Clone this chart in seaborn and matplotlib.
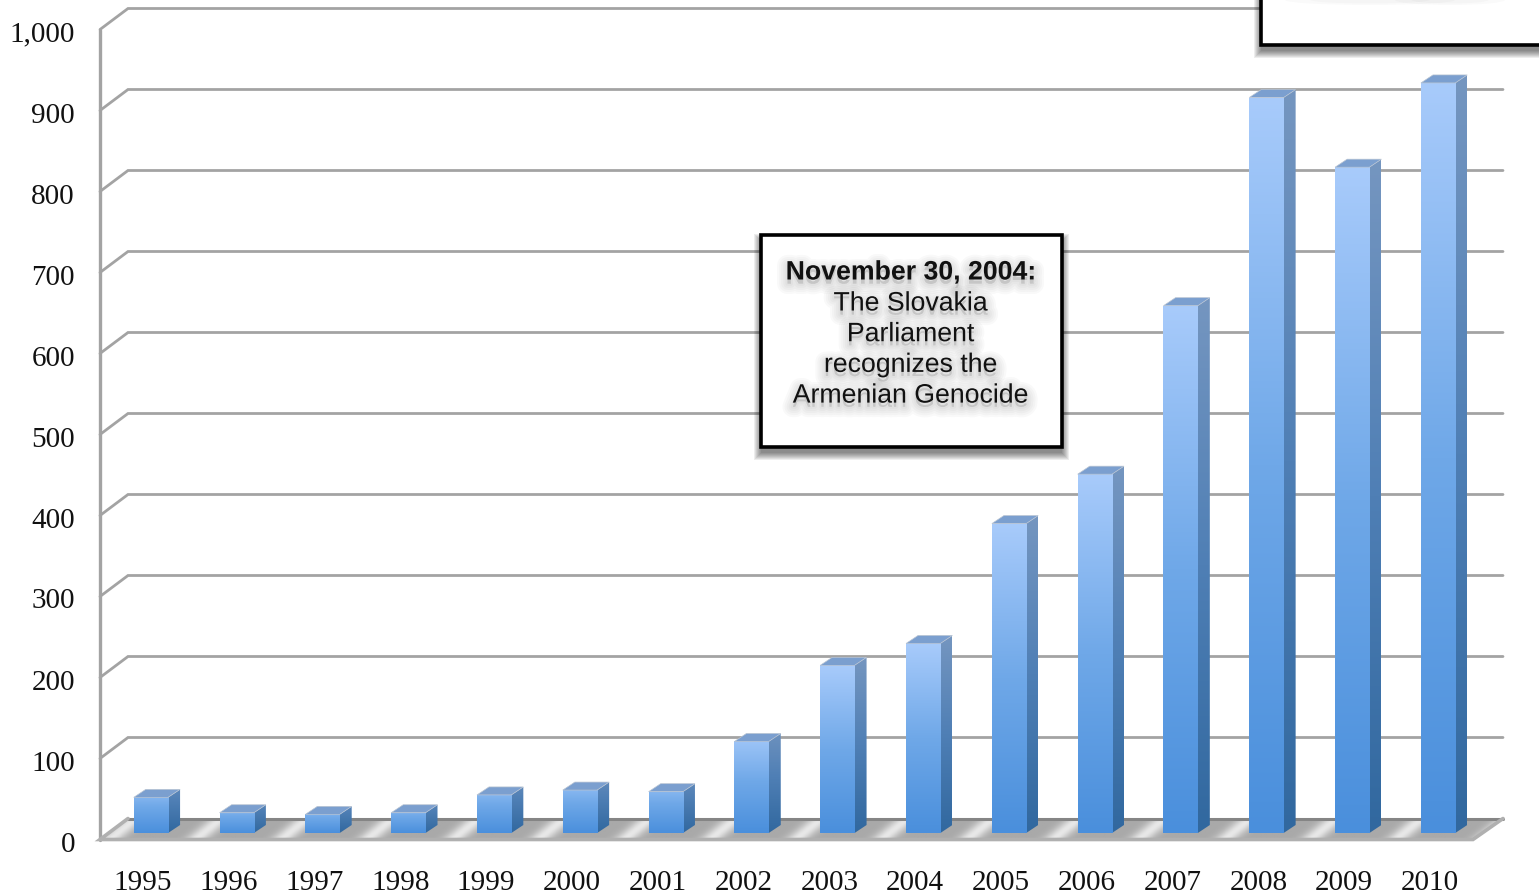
import numpy as np
import pandas as pd
import matplotlib
matplotlib.use("Agg")
import matplotlib.pyplot as plt
import matplotlib.patheffects as pe
from matplotlib.colors import LinearSegmentedColormap
from matplotlib.patches import Polygon, Rectangle, Ellipse
from matplotlib.transforms import Affine2D
import seaborn as sns


# =========================
# 1. Data
# =========================

years = ["1995", "1996", "1997", "1998", "1999", "2000", "2001", "2002",
         "2003", "2004", "2005", "2006", "2007", "2008", "2009", "2010"]
counts = [44, 25, 23, 25, 47, 53, 51, 113, 207, 234, 382, 443, 651, 908, 822, 926]

y_ticks = [0, 100, 200, 300, 400, 500, 600, 700, 800, 900, 1000]
y_tick_labels = ["0", "100", "200", "300", "400", "500", "600", "700", "800", "900", "1,000"]

note_title = "November 30, 2004:"
note_lines = ["The Slovakia", "Parliament", "recognizes the", "Armenian Genocide"]

data = pd.DataFrame({"year": years, "count": counts})


# =========================
# 2. Figure and axes
# =========================

W, H = 1539, 896
sns.set_style("white")

fig = plt.figure(figsize=(W / 100, H / 100), dpi=100)
ax = fig.add_axes([100 / W, (H - 839.5) / H, 1373 / W, 810 / H])

# size of one pixel in data units
PX = len(years) / 1373
PY = 1000 / 810

sns.barplot(data=data, x="year", y="count", width=0.4, ax=ax, zorder=3)
ax.set_xlim(-0.5, len(years) - 0.5)
ax.set_ylim(0, 1000)
ax.set_xlabel("")
ax.set_ylabel("")
sns.despine(ax=ax, left=True, bottom=True)
ax.patch.set_alpha(0)

ax.set_yticks(y_ticks)
ax.set_yticklabels(y_tick_labels)
ax.tick_params(axis="y", length=0, pad=18)
ax.tick_params(axis="x", length=0, pad=22)
for lab in ax.get_xticklabels() + ax.get_yticklabels():
    lab.set_fontfamily("Liberation Serif")
    lab.set_fontsize(21)
    lab.set_color("#111111")
for lab in ax.get_yticklabels():
    lab.set_va("center")
    lab.set_transform(lab.get_transform() + Affine2D().translate(0, -5))


# =========================
# 3. Walls and floor
# =========================

DEPTH_X = 28 * PX
DEPTH_Y = 21 * PY
X0, X1 = -0.5, len(years) - 0.5
FLOOR_RIGHT = X1 + 30 * PX
WALL = "#a3a3a3"

for v in y_ticks[1:]:
    ax.plot([X0, X0 + DEPTH_X, FLOOR_RIGHT], [v, v + DEPTH_Y, v + DEPTH_Y],
            color=WALL, lw=2.0, clip_on=False, zorder=1, solid_joinstyle="miter")
ax.plot([X0, X0], [0, 1000], color=WALL, lw=2.4, clip_on=False, zorder=1)

# floor: grey with a light diagonal streak for every category
floor_pts = [(X0, 0), (X1, 0), (FLOOR_RIGHT, DEPTH_Y), (X0 + DEPTH_X, DEPTH_Y)]
floor_patch = Polygon(floor_pts, closed=True, fc="none", ec="none", transform=ax.transData)
ax.add_patch(floor_patch)

uu, dd = np.meshgrid(np.linspace(X0, FLOOR_RIGHT, 1600), np.linspace(0, 1, 30))
phase = (uu - 0.12 - dd * DEPTH_X * 0.9) % 1.0
streak = np.exp(-(((phase - 0.5) / 0.13) ** 2))
floor_cmap = LinearSegmentedColormap.from_list("floor", ["#a9a9a9", "#e8e8e8"])
im = ax.imshow(streak, cmap=floor_cmap, origin="lower", aspect="auto", vmin=0, vmax=1,
               extent=[X0, FLOOR_RIGHT, 0, DEPTH_Y], zorder=1.5, interpolation="bilinear")
im.set_clip_path(floor_patch)
im.set_clip_box(fig.bbox)
ax.set_xlim(X0, X1)
ax.set_ylim(0, 1000)

ax.plot([X0 + DEPTH_X, FLOOR_RIGHT], [DEPTH_Y, DEPTH_Y], color="#858585", lw=2.2,
        clip_on=False, zorder=1.7)
ax.plot([X0 + DEPTH_X, X0, X1, FLOOR_RIGHT], [DEPTH_Y, 0, 0, DEPTH_Y], color="#b0b0b0", lw=2.6,
        clip_on=False, zorder=1.7, solid_joinstyle="miter")


# =========================
# 4. 3D looking bars
# =========================

front_cmap = LinearSegmentedColormap.from_list("front", ["#4a8fdc", "#6fa8e8", "#a8cbfb"])
side_cmap = LinearSegmentedColormap.from_list("side", ["#31689f", "#4f7fb5", "#7596c0"])
ramp = np.linspace(0, 1, 256).reshape(-1, 1)

SHIFT_X = 8 * PX
BAR_DX = 12 * PX
BAR_DY = 8 * PY
BASE = 6.5 * PY

for patch in ax.patches[:len(years)]:
    if not isinstance(patch, Rectangle):
        continue
    left = patch.get_x() + SHIFT_X
    right = left + patch.get_width()
    height = patch.get_height()
    patch.set_visible(False)

    # short bars do not reach the top colours of the ramp as strongly
    high = 0.55 + 0.45 * min(height / 150, 1)

    front = Rectangle((left, BASE), right - left, height, fc="none", ec="none", zorder=3)
    ax.add_patch(front)
    img = ax.imshow(ramp, cmap=front_cmap, origin="lower", aspect="auto", vmin=0, vmax=1 / high,
                    extent=[left, right, BASE, BASE + height], zorder=3.2)
    img.set_clip_path(front)

    side_pts = [(right, BASE), (right + BAR_DX, BASE + BAR_DY),
                (right + BAR_DX, BASE + height + BAR_DY), (right, BASE + height)]
    side = Polygon(side_pts, closed=True, fc="none", ec="none", zorder=3)
    ax.add_patch(side)
    img = ax.imshow(ramp, cmap=side_cmap, origin="lower", aspect="auto", vmin=0, vmax=1 / high,
                    extent=[right, right + BAR_DX, BASE, BASE + height + BAR_DY], zorder=3.1)
    img.set_clip_path(side)

    top_pts = [(left, BASE + height), (right, BASE + height),
               (right + BAR_DX, BASE + height + BAR_DY), (left + BAR_DX, BASE + height + BAR_DY)]
    ax.add_patch(Polygon(top_pts, closed=True, fc="#7b9fcf", ec="#b9c4d2", lw=0.5, zorder=3.3))

ax.set_xlim(X0, X1)
ax.set_ylim(0, 1000)


# =========================
# 5. Note boxes
# =========================

def fig_x(px):
    return px / W


def fig_y(py):
    return (H - py) / H


def note_box(x0, y0, x1, y1):
    # soft shadow made from stacked see-through rectangles
    for grow in range(7, -1, -1):
        fig.add_artist(Rectangle((fig_x(x0 - grow), fig_y(y1 + 6 + grow)),
                                 (x1 - x0 + 2 * grow) / W, (y1 - y0 + 2 * grow) / H,
                                 fc="black", ec="none", alpha=0.07, transform=fig.transFigure,
                                 clip_on=False))
    fig.add_artist(Rectangle((fig_x(x0), fig_y(y1)), (x1 - x0) / W, (y1 - y0) / H,
                             fc="white", ec="black", lw=2.6, transform=fig.transFigure,
                             joinstyle="miter"))


def shadowed_text(px, py, text, weight):
    shadow = [pe.Stroke(linewidth=w, foreground="#000000", alpha=0.022, offset=(0, -3))
              for w in (15, 12, 9, 6, 3)]
    fig.text(fig_x(px), fig_y(py), text, ha="center", va="center", fontsize=19.2,
             fontweight=weight, family="Liberation Sans", color="#111111",
             path_effects=shadow + [pe.Normal()])


note_box(760.5, 235, 1061.5, 447)
shadowed_text(910.5, 272.5, note_title, "bold")
for i, line in enumerate(note_lines):
    shadowed_text(910.5, 303.5 + i * 30.7, line, "normal")

# second box, cut off by the top and right edge of the picture
note_box(1261, -30, 1600, 45)
for cx, w in [(1370, 170), (1450, 110)]:
    for k in (1.0, 0.7):
        fig.add_artist(Ellipse((fig_x(cx), fig_y(0)), w * k / W, 10 * k / H, fc="black", ec="none",
                               alpha=0.02, transform=fig.transFigure))

fig.savefig("out.png", dpi=100)
